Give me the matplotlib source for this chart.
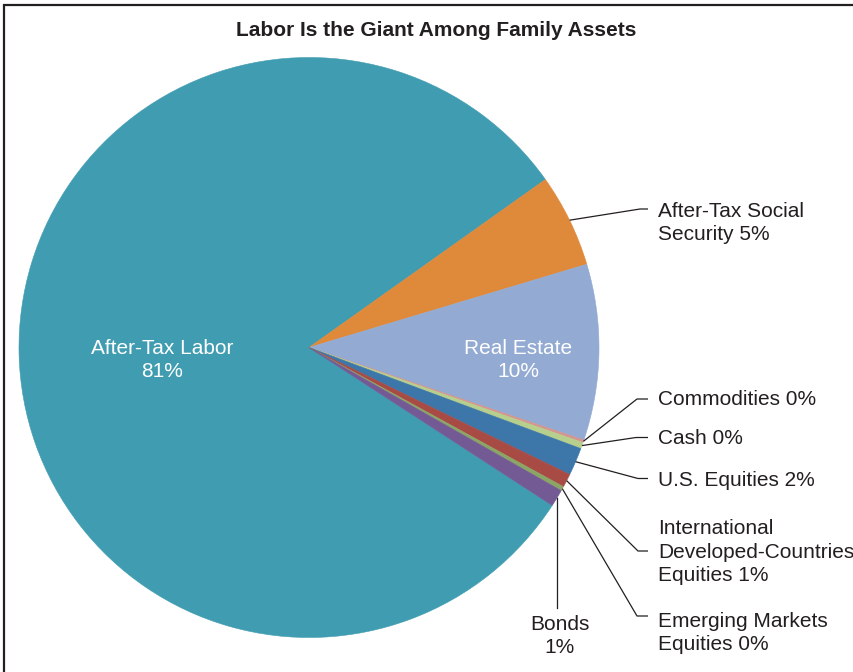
import numpy as np
import matplotlib.pyplot as plt
from matplotlib.patches import Rectangle

plt.rcParams['font.family'] = ['Liberation Sans', 'DejaVu Sans']

W, H = 854, 672

names = ['After-Tax Labor', 'After-Tax Social\nSecurity', 'Real Estate', 'Commodities',
         'Cash', 'U.S. Equities', 'International\nDeveloped-Countries\nEquities',
         'Emerging Markets\nEquities', 'Bonds']
shares = [81.0, 5.2, 9.8, 0.15, 0.35, 1.55, 0.75, 0.25, 0.95]
colors = ['#3f9cb1', '#df8a3b', '#93aad3', '#d5958f', '#b6cf8c',
          '#3d76a9', '#a94b45', '#8ba566', '#735a94']

ink = '#231f20'
fs = 15
ls = 1.32

fig = plt.figure(figsize=(W / 100, H / 100), dpi=100)
ax = fig.add_axes([0, 0, 1, 1])

cx, cy, r = 309, H - 347.5, 290
wedges, _ = ax.pie(shares, colors=colors, startangle=-33, counterclock=False,
                   center=(cx, cy), radius=r,
                   wedgeprops=dict(linewidth=0.4, antialiased=True))
for w, c in zip(wedges, colors):
    w.set_edgecolor(c)

ax.set_xlim(0, W)
ax.set_ylim(0, H)
ax.set_aspect('equal')
ax.axis('off')


def label_text(i):
    pct = f'{round(shares[i])}%'
    if i in (0, 2, 8):
        return names[i] + '\n' + pct
    return names[i] + ' ' + pct


# labels sitting inside their wedges
for i, (x, y) in {0: (162, 360), 2: (518, 360)}.items():
    ax.text(x, H - y, label_text(i), color='white', fontsize=fs,
            ha='center', va='center', linespacing=ls)

# callouts: elbow point, end of the horizontal tick, text anchor
callouts = {
    1: ((640, 209), 648, (658, 223)),
    3: ((637, 399), 648, (658, 400)),
    4: ((636, 437.5), 648, (658, 439)),
    5: ((638, 478.5), 648, (658, 480)),
    6: ((638, 551), 648, (658, 552)),
    7: ((637, 616), 648, (658, 633)),
}

for i, ((ex, ey), endx, (tx, ty)) in callouts.items():
    w = wedges[i]
    mid = np.deg2rad((w.theta1 + w.theta2) / 2)
    rx, ry = cx + r * np.cos(mid), cy + r * np.sin(mid)
    ax.plot([rx, ex, endx], [ry, H - ey, H - ey], color=ink, lw=0.9,
            solid_capstyle='butt')
    ax.text(tx, H - ty, label_text(i), color=ink, fontsize=fs,
            ha='left', va='center', linespacing=ls)

# bonds: straight drop below the wedge
w = wedges[8]
mid = np.deg2rad((w.theta1 + w.theta2) / 2)
rx, ry = cx + r * np.cos(mid), cy + r * np.sin(mid)
ax.plot([rx, rx], [ry, H - 608], color=ink, lw=0.9)
ax.text(rx + 3, H - 636, label_text(8), color=ink, fontsize=fs,
        ha='center', va='center', linespacing=ls)

ax.text(436, H - 30, 'Labor Is the Giant Among Family Assets', color=ink,
        fontsize=15, fontweight='bold', ha='center', va='center')

# outer frame, running off the right and bottom edges
ax.add_patch(Rectangle((4.5, -20), W + 40, H - 5 + 20, fill=False,
                       edgecolor=ink, lw=1.6, clip_on=False))

fig.savefig('out.png', dpi=100)
